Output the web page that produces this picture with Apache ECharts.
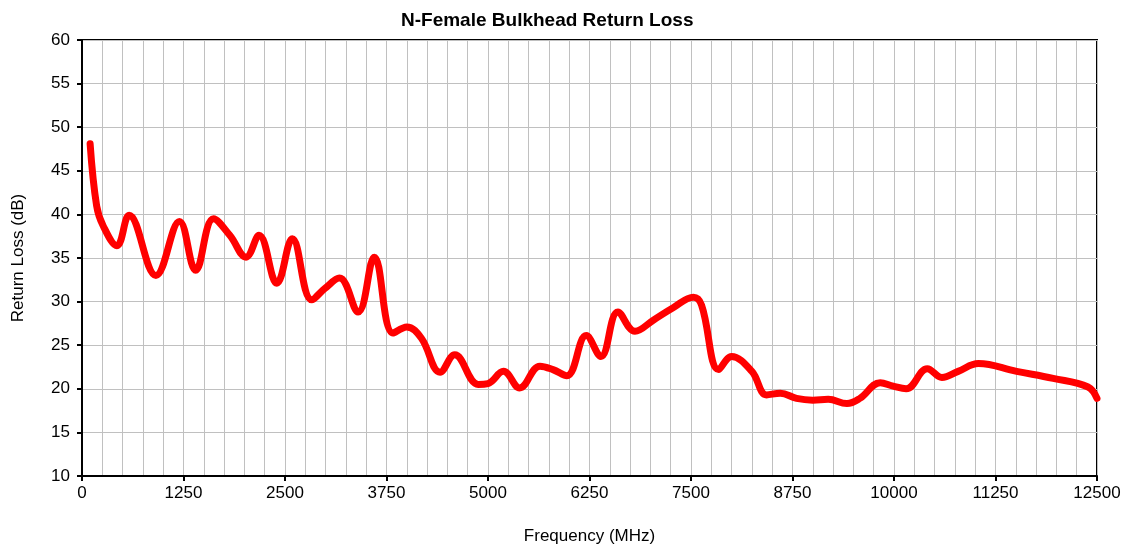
<!DOCTYPE html>
<html>
<head>
<meta charset="utf-8">
<script src="https://cdn.jsdelivr.net/npm/echarts@6/dist/echarts.min.js"></script>
<style>
  html, body { margin: 0; padding: 0; background: #fff; }
  #chart-panel { width: 1130px; height: 550px; }
</style>
</head>
<body>
<div id="chart-panel"></div>
<script>
var freqs = [100, 180, 260, 430, 580, 910, 1200, 1400, 1620, 1820, 2020, 2180, 2400, 2590,
  2830, 2990, 3170, 3400, 3600, 3830, 4000, 4180, 4410, 4590, 4880, 5000, 5190, 5390,
  5640, 5800, 5970, 6210, 6390, 6600, 6810, 7040, 7280, 7530, 7630, 7840, 8000, 8250,
  8430, 8600, 8800, 9000, 9190, 9420, 9580, 9830, 9990, 10150, 10410, 10590, 10790,
  11040, 11510, 11960, 12390, 12500];
var returnLoss = [48.1, 41.0, 38.7, 36.4, 39.9, 33.0, 39.2, 33.6, 39.5, 37.6, 35.1, 37.6, 32.1, 37.2,
  30.2, 31.5, 32.7, 28.8, 35.1, 26.4, 27.1, 25.8, 21.9, 23.9, 20.5, 20.6, 22.0, 20.1,
  22.6, 22.2, 21.5, 26.1, 23.7, 28.8, 26.6, 27.9, 29.3, 30.5, 29.6, 22.2, 23.7, 22.0,
  19.3, 19.5, 18.9, 18.7, 18.8, 18.3, 18.9, 20.7, 20.3, 20.0, 22.3, 21.3, 22.0,
  22.9, 22.0, 21.2, 20.2, 18.9];

var font = 'Liberation Sans, Arial, sans-serif';
var points = freqs.map(function (f, i) { return [f, returnLoss[i]]; });

var myChart = echarts.init(document.getElementById('chart-panel'));
var option = {
  animation: false,
  title: {
    text: 'N-Female Bulkhead Return Loss',
    left: 396,
    top: 6,
    textStyle: { fontFamily: font, fontSize: 19, fontWeight: 'bold', color: '#000' }
  },
  grid: {
    left: 82, right: 33, top: 40, bottom: 71,
    show: true, borderColor: '#000', borderWidth: 2
  },
  xAxis: {
    type: 'value',
    min: 0, max: 12500, interval: 1250,
    name: 'Frequency (MHz)',
    nameLocation: 'middle',
    nameGap: 52,
    nameTextStyle: { fontFamily: font, fontSize: 17, color: '#000' },
    axisLine: { lineStyle: { color: '#000', width: 2 } },
    axisTick: { show: true, length: 5, lineStyle: { color: '#000', width: 2 } },
    axisLabel: { fontFamily: font, fontSize: 17, color: '#000', margin: 9,
      formatter: function (v) { return String(v); } },
    splitLine: { show: true, lineStyle: { color: '#c0c0c0', width: 1 } },
    minorTick: { show: false, splitNumber: 5 },
    minorSplitLine: { show: true, lineStyle: { color: '#c0c0c0', width: 1 } }
  },
  yAxis: {
    type: 'value',
    min: 10, max: 60, interval: 5,
    name: 'Return Loss (dB)',
    nameLocation: 'middle',
    nameGap: 55,
    nameTextStyle: { fontFamily: font, fontSize: 17, color: '#000' },
    axisLine: { show: true, lineStyle: { color: '#000', width: 2 } },
    axisTick: { show: true, length: 5, lineStyle: { color: '#000', width: 2 } },
    axisLabel: { fontFamily: font, fontSize: 17, color: '#000', margin: 12 },
    splitLine: { show: true, lineStyle: { color: '#c0c0c0', width: 1 } }
  },
  series: [{
    type: 'line',
    data: points,
    smooth: 0.4,
    showSymbol: false,
    lineStyle: { color: '#ff0000', width: 7, cap: 'round', join: 'round' }
  }]
};
myChart.setOption(option);
</script>
</body>
</html>
